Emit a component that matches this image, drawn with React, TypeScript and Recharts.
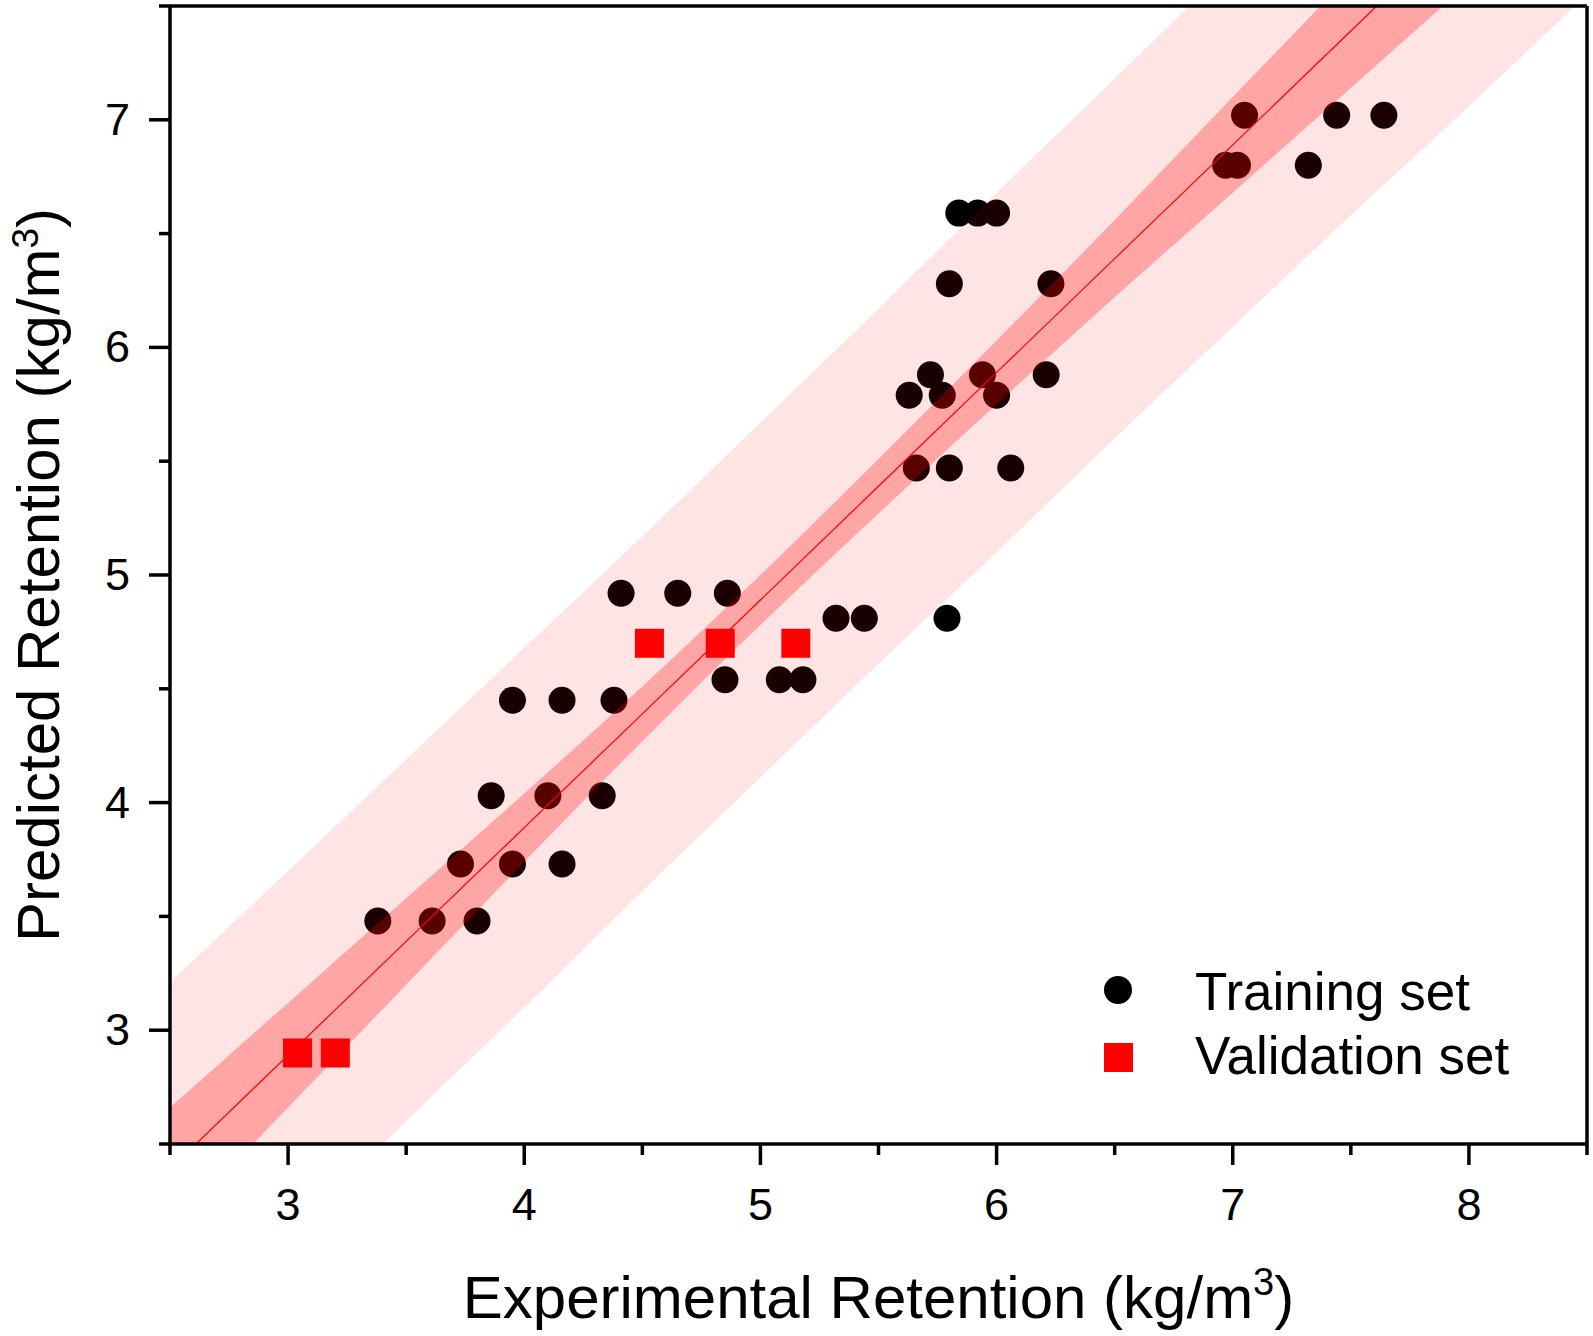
import { ComposedChart, XAxis, YAxis, Scatter, Area, Line, Legend } from 'recharts';

// training set (triplicate rows)
const trainingX = [
	7.05, 7.44, 7.64,
	6.97, 7.02, 7.32,
	5.84, 5.92, 6.0,
	5.8, 6.23,
	5.72, 5.94, 6.21,
	5.63, 5.77, 6.0,
	5.66, 5.8, 6.06,
	4.41, 4.65, 4.86,
	5.32, 5.44, 5.79,
	4.85, 5.08, 5.18,
	3.95, 4.16, 4.38,
	3.86, 4.1, 4.33,
	3.73, 3.95, 4.16,
	3.38, 3.61, 3.8,
];
const trainingY = [
	7.02, 7.02, 7.02,
	6.8, 6.8, 6.8,
	6.59, 6.59, 6.59,
	6.28, 6.28,
	5.88, 5.88, 5.88,
	5.79, 5.79, 5.79,
	5.47, 5.47, 5.47,
	4.92, 4.92, 4.92,
	4.81, 4.81, 4.81,
	4.54, 4.54, 4.54,
	4.45, 4.45, 4.45,
	4.03, 4.03, 4.03,
	3.73, 3.73, 3.73,
	3.48, 3.48, 3.48,
];

const validationX = [4.53, 4.83, 5.15, 3.04, 3.2];
const validationY = [4.7, 4.7, 4.7, 2.9, 2.9];

// fit line with confidence (dark) and prediction (light) bands
const bandX = [2.5, 3, 3.5, 4, 4.5, 5, 5.5, 6, 6.5, 7, 7.5, 8, 8.5];
const fitY = [2.39, 2.89, 3.39, 3.89, 4.39, 4.89, 5.39, 5.89, 6.39, 6.89, 7.39, 7.89, 8.39];
const confLow = [2.12, 2.66, 3.2, 3.74, 4.27, 4.78, 5.27, 5.75, 6.22, 6.68, 7.14, 7.6, 8.05];
const confHigh = [2.66, 3.12, 3.58, 4.04, 4.51, 5.0, 5.51, 6.03, 6.56, 7.1, 7.64, 8.19, 8.73];
const predLow = [1.57, 2.08, 2.6, 3.1, 3.61, 4.11, 4.61, 5.1, 5.6, 6.09, 6.58, 7.06, 7.55];
const predHigh = [3.21, 3.7, 4.19, 4.68, 5.17, 5.67, 6.17, 6.68, 7.18, 7.69, 8.2, 8.72, 9.23];

const xTicks = [2.5, 3, 3.5, 4, 4.5, 5, 5.5, 6, 6.5, 7, 7.5, 8, 8.5];
const yTicks = [2.5, 3, 3.5, 4, 4.5, 5, 5.5, 6, 6.5, 7, 7.5];

const FONT = '"Liberation Sans", Arial, Helvetica, sans-serif';
const AXIS_W = 3.5;

const bandData = bandX.map((x, i) => ({
	x,
	fit: fitY[i],
	conf: [confLow[i], confHigh[i]],
	pred: [predLow[i], predHigh[i]],
}));
const trainingData = trainingX.map((x, i) => ({ x, y: trainingY[i] }));
const validationData = validationX.map((x, i) => ({ x, y: validationY[i] }));

const XTick = ({ x, y, payload }: any) => {
	const major = Number.isInteger(payload.value);
	return (
		<g>
			<line x1={x} x2={x} y1={y} y2={y + (major ? 21 : 11)} stroke="#000" strokeWidth={AXIS_W} />
			{major && (
				<text x={x} y={y + 76} textAnchor="middle" fontSize={45} fontFamily={FONT} fill="#000">
					{payload.value}
				</text>
			)}
		</g>
	);
};

const YTick = ({ x, y, payload }: any) => {
	const major = Number.isInteger(payload.value);
	return (
		<g>
			<line x1={x - (major ? 21 : 11)} x2={x} y1={y} y2={y} stroke="#000" strokeWidth={AXIS_W} />
			{major && (
				<text x={x - 40} y={y + 15} textAnchor="end" fontSize={45} fontFamily={FONT} fill="#000">
					{payload.value}
				</text>
			)}
		</g>
	);
};

const XTitle = ({ viewBox }: any) => (
	<text x={viewBox.x + viewBox.width / 2} y={viewBox.y + 174} textAnchor="middle" fontSize={60} fontFamily={FONT} fill="#000">
		Experimental Retention (kg/m<tspan fontSize={38} dy={-23}>3</tspan>
		<tspan dy={23}>)</tspan>
	</text>
);

const YTitle = ({ viewBox }: any) => {
	const tx = viewBox.x + 59;
	const ty = viewBox.y + viewBox.height / 2;
	return (
		<text x={tx} y={ty} transform={`rotate(-90 ${tx} ${ty})`} textAnchor="middle" fontSize={60} fontFamily={FONT} fill="#000">
			Predicted Retention (kg/m<tspan fontSize={37} dy={-21}>3</tspan>
			<tspan dy={21}>)</tspan>
		</text>
	);
};

const Dot = (p: any) => <circle cx={p.cx} cy={p.cy} r={13.5} fill="#000" />;
const Square = (p: any) => <rect x={p.cx - 14.5} y={p.cy - 14.5} width={29} height={29} fill="#ff0000" />;

const renderLegend = () => (
	<svg width={430} height={140} style={{ display: 'block' }}>
		<circle cx={28} cy={40} r={14} fill="#000" />
		<text x={105} y={60} fontSize={53} fontFamily={FONT} fill="#000">Training set</text>
		<rect x={14} y={93} width={29} height={29} fill="#ff0000" />
		<text x={105} y={124} fontSize={53} fontFamily={FONT} fill="#000">Validation set</text>
	</svg>
);

export default function App() {
	return (
		<div style={{ position: 'absolute', left: 0, top: 0, width: 1593, height: 1336, background: '#fff' }}>
			<ComposedChart width={1593} height={1336} data={bandData} margin={{ top: 5, right: 5, bottom: 0, left: 0 }}>
				<XAxis
					type="number"
					dataKey="x"
					domain={[2.5, 8.5]}
					ticks={xTicks}
					interval={0}
					allowDataOverflow
					height={192}
					tickSize={0}
					tickMargin={0}
					tickLine={false}
					tick={<XTick />}
					axisLine={{ stroke: '#000', strokeWidth: AXIS_W }}
					label={{ content: XTitle }}
				/>
				<YAxis
					type="number"
					domain={[2.5, 7.5]}
					ticks={yTicks}
					interval={0}
					allowDataOverflow
					width={170}
					tickSize={0}
					tickMargin={0}
					tickLine={false}
					tick={<YTick />}
					axisLine={{ stroke: '#000', strokeWidth: AXIS_W }}
					label={{ content: YTitle }}
				/>
				<XAxis
					xAxisId="top"
					orientation="top"
					type="number"
					domain={[0, 1]}
					height={1}
					tick={false}
					tickLine={false}
					axisLine={{ stroke: '#000', strokeWidth: AXIS_W }}
				/>
				<YAxis
					yAxisId="right"
					orientation="right"
					type="number"
					domain={[0, 1]}
					width={1}
					tick={false}
					tickLine={false}
					axisLine={{ stroke: '#000', strokeWidth: AXIS_W }}
				/>
				<Scatter
					name="Training set"
					data={trainingData}
					dataKey="y"
					shape={Dot}
					isAnimationActive={false}
					zIndex={50}
				/>
				<Area
					dataKey="pred"
					type="monotone"
					stroke="none"
					fill="#ff0000"
					fillOpacity={0.106}
					dot={false}
					activeDot={false}
					isAnimationActive={false}
					legendType="none"
				/>
				<Area
					dataKey="conf"
					type="monotone"
					stroke="none"
					fill="#ff0000"
					fillOpacity={0.276}
					dot={false}
					activeDot={false}
					isAnimationActive={false}
					legendType="none"
				/>
				<Line
					dataKey="fit"
					stroke="#ff0000"
					strokeWidth={1.2}
					dot={false}
					activeDot={false}
					isAnimationActive={false}
					legendType="none"
				/>
				<Scatter
					name="Validation set"
					data={validationData}
					dataKey="y"
					shape={Square}
					isAnimationActive={false}
				/>
				<Legend
					layout="horizontal"
					verticalAlign="middle"
					align="center"
					content={renderLegend}
					wrapperStyle={{ left: 1090, top: 950, width: 430, height: 140 }}
				/>
			</ComposedChart>
		</div>
	);
}
